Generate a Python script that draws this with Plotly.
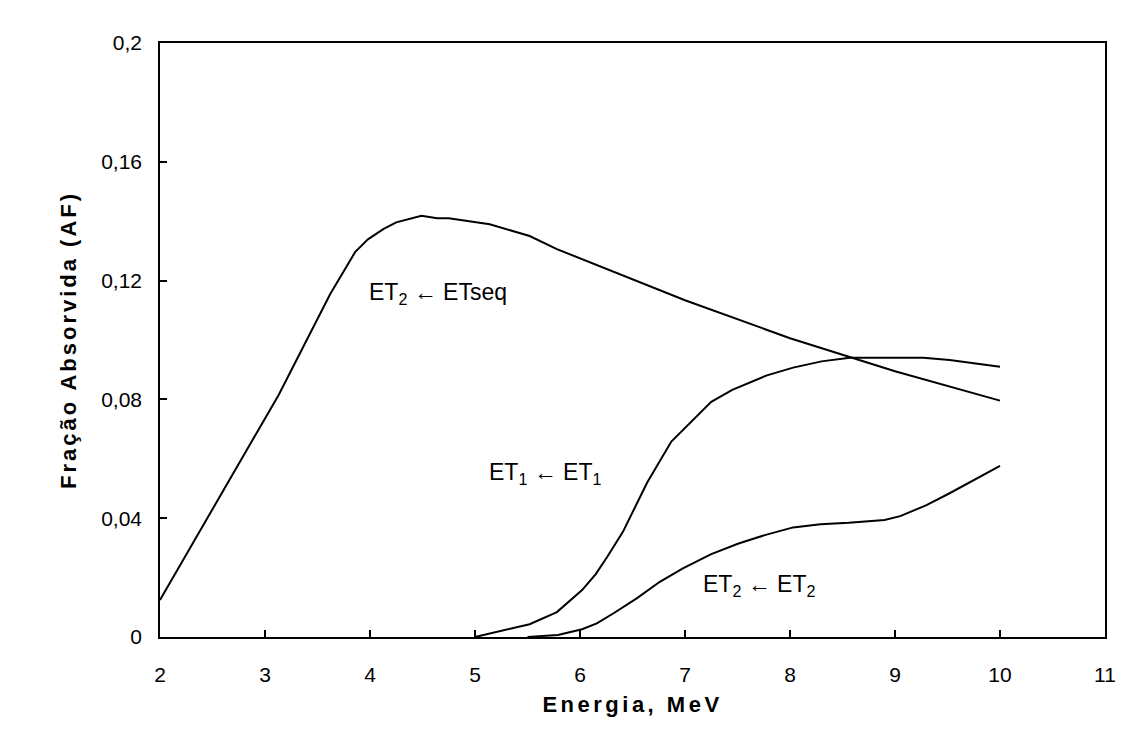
import plotly.graph_objects as go

# Fração absorvida vs. energia para três pares fonte/alvo
energy_seq = [2.0, 3.13, 3.62, 3.86, 3.98, 4.13, 4.25, 4.49, 4.64, 4.75, 5.14, 5.52, 5.78, 7.0, 8.0, 9.0, 10.0]
af_et2_etseq = [0.0125, 0.0815, 0.1154, 0.1297, 0.1339, 0.1374, 0.1396, 0.1418, 0.141, 0.141, 0.139, 0.135, 0.1306, 0.1134, 0.1006, 0.0895, 0.0796]

energy_et1 = [5.0, 5.52, 5.78, 6.02, 6.15, 6.26, 6.41, 6.64, 6.87, 7.02, 7.25, 7.45, 7.78, 8.03, 8.3, 8.57, 9.0, 9.27, 9.52, 10.0]
af_et1_et1 = [0.0, 0.0043, 0.0084, 0.0158, 0.0212, 0.027, 0.0355, 0.052, 0.0658, 0.0712, 0.0792, 0.0832, 0.0881, 0.0907, 0.0928, 0.094, 0.094, 0.094, 0.0933, 0.091]

energy_et2 = [5.5, 5.79, 6.02, 6.16, 6.32, 6.54, 6.76, 6.98, 7.25, 7.51, 7.76, 8.03, 8.29, 8.56, 8.9, 9.05, 9.3, 9.52, 10.0]
af_et2_et2 = [0.0, 0.0007, 0.0026, 0.0046, 0.008, 0.013, 0.0186, 0.0231, 0.0279, 0.0315, 0.0343, 0.0369, 0.038, 0.0385, 0.0394, 0.0407, 0.0444, 0.0484, 0.0576]

x_ticks = [2, 3, 4, 5, 6, 7, 8, 9, 10, 11]
y_ticks = [0, 0.04, 0.08, 0.12, 0.16, 0.2]
y_tick_text = ["0", "0,04", "0,08", "0,12", "0,16", "0,2"]

FONT = "Liberation Sans, Arial, sans-serif"
line_style = dict(color="black", width=2)


def spaced_bold(text, spacing=3):
    """Bold title text with a little extra letter spacing."""
    return f'<span style="letter-spacing:{spacing}px"><b>{text}</b></span>'


fig = go.Figure()
fig.add_trace(go.Scatter(x=energy_seq, y=af_et2_etseq, mode="lines", line=line_style))
fig.add_trace(go.Scatter(x=energy_et1, y=af_et1_et1, mode="lines", line=line_style))
fig.add_trace(go.Scatter(x=energy_et2, y=af_et2_et2, mode="lines", line=line_style))

# Rótulos das curvas
labels = [
    (4.65, 0.1158, "ET<sub>2</sub> ← ETseq"),
    (5.67, 0.0552, "ET<sub>1</sub> ← ET<sub>1</sub>"),
    (7.71, 0.0175, "ET<sub>2</sub> ← ET<sub>2</sub>"),
]
for lx, ly, txt in labels:
    fig.add_annotation(x=lx, y=ly, text=txt, showarrow=False,
                       font=dict(family=FONT, size=23, color="black"))

fig.update_layout(
    width=1122, height=740,
    margin=dict(l=160, r=17, t=43, b=103),
    paper_bgcolor="white", plot_bgcolor="white",
    showlegend=False,
    font=dict(family=FONT, color="black"),
)
fig.update_xaxes(
    range=[2, 11], tickvals=x_ticks, ticks="inside", ticklen=7, tickwidth=1.5, tickcolor="black",
    showline=True, linecolor="black", linewidth=1.5, mirror=True, showgrid=False, zeroline=False,
    tickfont=dict(family=FONT, size=21), ticklabelstandoff=18, automargin=False,
    title=dict(text=spaced_bold("Energia, MeV", 3.5), font=dict(family=FONT, size=22), standoff=12),
)
fig.update_yaxes(
    range=[0, 0.2], tickvals=y_ticks, ticktext=y_tick_text, ticks="inside", ticklen=7, tickwidth=1.5,
    tickcolor="black", showline=True, linecolor="black", linewidth=1.5, mirror=True, showgrid=False,
    zeroline=False, tickfont=dict(family=FONT, size=21), ticklabelstandoff=12, automargin=False,
    title=dict(text=spaced_bold("Fração Absorvida (AF)", 3), font=dict(family=FONT, size=22), standoff=18),
)

fig.write_html("out.html")
